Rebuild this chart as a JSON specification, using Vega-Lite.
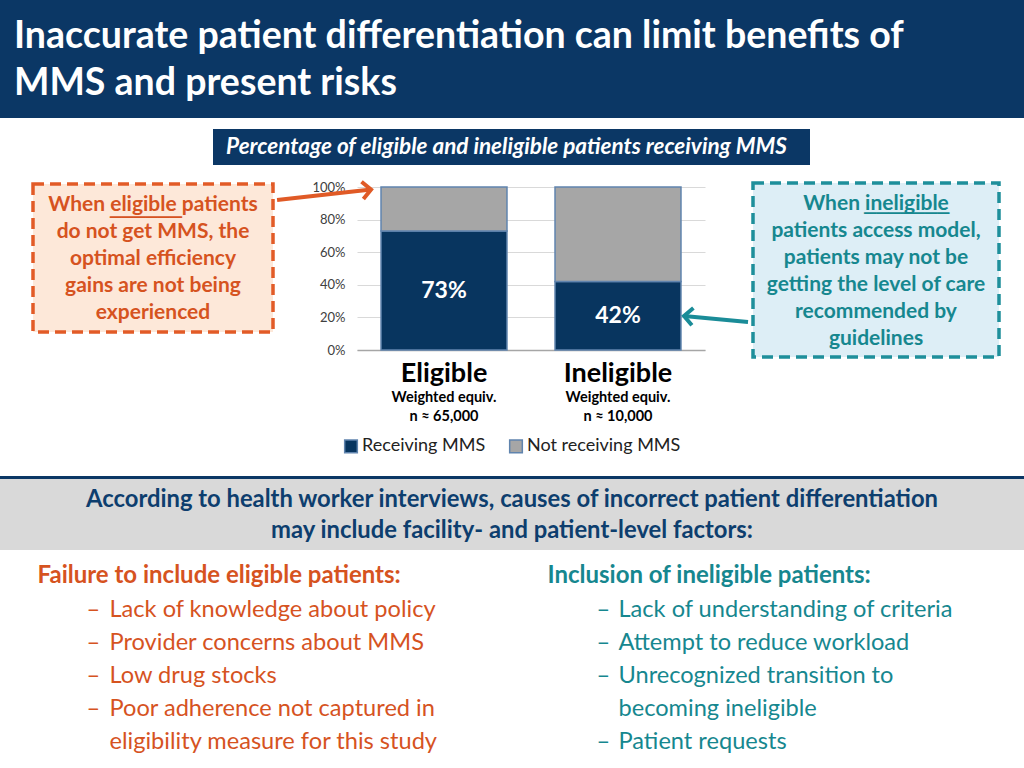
{
  "$schema": "https://vega.github.io/schema/vega-lite/v6.json",
  "padding": 0,
  "background": "white",
  "data": {"values": [{}]},
  "spacing": 0,
  "config": {
    "view": {"stroke": null},
    "concat": {"spacing": 0},
    "font": "Lato"
  },
  "vconcat": [
    {
      "width": 1024, "height": 118,
      "view": {"fill": "#0b3765"},
      "mark": {"type": "text", "text": ["Inaccurate patient differentiation can limit benefits of", "MMS and present risks"], "align": "left", "baseline": "alphabetic", "dx": -498, "dy": -11, "fontSize": 37.5, "fontWeight": "bold", "color": "white", "lineHeight": 47}
    },
    {"width": 1024, "height": 11, "data": {"values": []}, "mark": "point"},
    {
      "hconcat": [
        {"width": 213, "height": 36, "data": {"values": []}, "mark": "point"},
        {
          "width": 597, "height": 36,
          "view": {"fill": "#0b3765"},
          "mark": {"type": "text", "text": "Percentage of eligible and ineligible patients receiving MMS", "dx": -5, "fontSize": 22.5, "fontWeight": "bold", "fontStyle": "italic", "color": "white"}
        },
        {"width": 214, "height": 36, "data": {"values": []}, "mark": "point"}
      ],
      "spacing": 0, "bounds": "flush"
    },
    {
      "hconcat": [
        {"width": 31, "height": 311, "data": {"values": []}, "mark": "point"},
        {
          "vconcat": [
            {"width": 240, "height": 19, "data": {"values": []}, "mark": "point"},
            {
              "width": 240, "height": 148,
              "view": {"fill": "#fde8d9", "stroke": "#e25b27", "strokeWidth": 3.5, "strokeDash": [11, 6]},
              "layer": [
                {"mark": {"type": "text", "text": ["When eligible patients", "do not get MMS, the", "optimal efficiency", "gains are not being", "experienced"], "baseline": "alphabetic", "fontSize": 21, "fontWeight": "bold", "color": "#d6531f", "lineHeight": 27, "dy": -47}},
                {"mark": {"type": "text", "text": "──────", "font": "DejaVu Sans", "align": "left", "baseline": "middle", "fontSize": 19.9, "color": "#d6531f", "dx": -43, "dy": -40}}
              ]
            }
          ],
          "spacing": 0, "bounds": "flush"
        },
        {
          "vconcat": [
            {"width": 348, "height": 22, "data": {"values": []}, "mark": "point"},
            {
              "width": 348, "height": 163,
              "data": {"values": [
                {"group": "Eligible", "status": "Receiving MMS", "share": 0.73},
                {"group": "Eligible", "status": "Not receiving MMS", "share": 0.27},
                {"group": "Ineligible", "status": "Receiving MMS", "share": 0.42},
                {"group": "Ineligible", "status": "Not receiving MMS", "share": 0.58}
              ]},
              "layer": [
                {
                  "mark": {"type": "bar", "stroke": "#6084ae", "strokeWidth": 1.5},
                  "encoding": {
                    "x": {"field": "group", "type": "nominal", "sort": ["Eligible", "Ineligible"],
                      "scale": {"paddingInner": 0.276, "paddingOuter": 0.138},
                      "axis": {"orient": "bottom", "title": null, "labelAngle": 0, "labelFontSize": 27, "labelFontWeight": "bold", "labelColor": "#000000", "labelPadding": 10, "ticks": false, "domainColor": "#a6a6a6", "domainWidth": 1.5, "grid": false}},
                    "y": {"field": "share", "type": "quantitative", "stack": "zero",
                      "scale": {"domain": [0, 1]},
                      "axis": {"title": null, "values": [0, 0.2, 0.4, 0.6, 0.8, 1], "format": ".0%", "domain": false, "ticks": false, "labelFontSize": 13, "labelColor": "#404040", "labelPadding": 12, "gridColor": "#d9d9d9", "gridWidth": 1}},
                    "color": {"field": "status", "type": "nominal",
                      "scale": {"domain": ["Receiving MMS", "Not receiving MMS"], "range": ["#08355f", "#a6a6a6"]},
                      "legend": {"orient": "none", "legendX": 342, "legendY": 437, "direction": "horizontal", "title": null, "symbolType": "square", "symbolSize": 160, "labelFontSize": 18, "labelColor": "#222222", "columnPadding": 20, "labelOffset": 2, "symbolStrokeColor": "#6084ae", "symbolStrokeWidth": 1.5}},
                    "order": {"field": "status", "sort": "descending"}
                  }
                },
                {
                  "transform": [{"filter": "datum.status === 'Receiving MMS'"}],
                  "mark": {"type": "text", "color": "white", "fontSize": 23, "fontWeight": "bold", "baseline": "middle"},
                  "encoding": {
                    "x": {"field": "group", "type": "nominal", "sort": ["Eligible", "Ineligible"],
                      "axis": {"orient": "bottom", "title": null, "labelAngle": 0, "labelExpr": "datum.value == 'Eligible' ? ['Weighted equiv.', 'n ≈ 65,000'] : ['Weighted equiv.', 'n ≈ 10,000']", "labelFontSize": 14.5, "labelFontWeight": "bold", "labelColor": "#000000", "labelPadding": 40, "labelLineHeight": 19, "ticks": false, "domain": false, "grid": false}},
                    "y": {"field": "share", "type": "quantitative", "scale": {"domain": [0, 2]}, "axis": null},
                    "text": {"field": "share", "type": "quantitative", "format": ".0%"}
                  }
                },
                {
                  "data": {"values": [{"group": "Eligible"}]},
                  "mark": {"type": "rule", "color": "#e05a26", "strokeWidth": 4},
                  "encoding": {
                    "x": {"field": "group", "type": "nominal", "sort": ["Eligible", "Ineligible"], "bandPosition": -0.825, "axis": null},
                    "x2": {"field": "group", "bandPosition": -0.079},
                    "y": {"datum": 0.92, "type": "quantitative", "scale": {"domain": [0, 1]}, "axis": null},
                    "y2": {"datum": 0.985}
                  }
                },
                {
                  "data": {"values": [{"group": "Eligible"}]},
                  "mark": {"type": "point", "shape": "M-1,-1L0,0L-1,1", "filled": false, "color": "#e05a26", "strokeWidth": 4, "size": 300, "angle": -6.3, "opacity": 1},
                  "encoding": {
                    "x": {"field": "group", "type": "nominal", "sort": ["Eligible", "Ineligible"], "bandPosition": -0.079, "axis": null},
                    "y": {"datum": 0.985, "type": "quantitative", "scale": {"domain": [0, 1]}, "axis": null}
                  }
                },
                {
                  "data": {"values": [{"group": "Ineligible"}]},
                  "mark": {"type": "rule", "color": "#1a8c98", "strokeWidth": 4},
                  "encoding": {
                    "x": {"field": "group", "type": "nominal", "sort": ["Eligible", "Ineligible"], "bandPosition": 1.532, "axis": null},
                    "x2": {"field": "group", "bandPosition": 1.024},
                    "y": {"datum": 0.172, "type": "quantitative", "scale": {"domain": [0, 1]}, "axis": null},
                    "y2": {"datum": 0.209}
                  }
                },
                {
                  "data": {"values": [{"group": "Ineligible"}]},
                  "mark": {"type": "point", "shape": "M-1,-1L0,0L-1,1", "filled": false, "color": "#1a8c98", "strokeWidth": 4, "size": 300, "angle": 185, "opacity": 1},
                  "encoding": {
                    "x": {"field": "group", "type": "nominal", "sort": ["Eligible", "Ineligible"], "bandPosition": 1.024, "axis": null},
                    "y": {"datum": 0.209, "type": "quantitative", "scale": {"domain": [0, 1]}, "axis": null}
                  }
                }
              ],
              "resolve": {"scale": {"y": "independent"}, "axis": {"x": "independent"}}
            }
          ],
          "spacing": 0, "bounds": "flush"
        },
        {
          "vconcat": [
            {"width": 246, "height": 18, "data": {"values": []}, "mark": "point"},
            {
              "width": 246, "height": 174,
              "view": {"fill": "#ddeef6", "stroke": "#1e8f9b", "strokeWidth": 3.5, "strokeDash": [11, 6]},
              "layer": [
                {"mark": {"type": "text", "text": ["When ineligible", "patients access model,", "patients may not be", "getting the level of care", "recommended by", "guidelines"], "baseline": "alphabetic", "fontSize": 21, "fontWeight": "bold", "color": "#16878f", "lineHeight": 27, "dy": -60}},
                {"mark": {"type": "text", "text": "───────", "font": "DejaVu Sans", "align": "left", "baseline": "middle", "fontSize": 20.2, "color": "#16878f", "dx": -12, "dy": -56}}
              ]
            }
          ],
          "spacing": 0, "bounds": "flush"
        },
        {"width": 24, "height": 1, "data": {"values": []}, "mark": "point"}
      ],
      "spacing": 0
    },
    {"width": 1024, "height": 3, "view": {"fill": "#0b3765"}, "data": {"values": []}, "mark": "point"},
    {
      "width": 1024, "height": 71,
      "view": {"fill": "#d9d9d9"},
      "mark": {"type": "text", "text": ["According to health worker interviews, causes of incorrect patient differentiation", "may include facility- and patient-level factors:"], "baseline": "alphabetic", "fontSize": 23.8, "fontWeight": "bold", "color": "#0d3e6e", "lineHeight": 31, "dy": -7.5}
    },
    {
      "hconcat": [
        {"width": 37, "height": 218, "data": {"values": []}, "mark": "point"},
        {"width": 1, "height": 66, "mark": {"type": "text", "text": "Failure to include eligible patients:", "align": "left", "baseline": "alphabetic", "fontSize": 24, "fontWeight": "bold", "color": "#d6531f"}},
        {"width": 50, "height": 1, "data": {"values": []}, "mark": "point"},
        {"width": 1, "height": 134, "mark": {"type": "text", "text": ["–", "–", "–", "–"], "align": "left", "baseline": "alphabetic", "fontSize": 23.6, "color": "#d6531f", "lineHeight": 33, "dx": -2}},
        {"width": 20, "height": 1, "data": {"values": []}, "mark": "point"},
        {"width": 1, "height": 134, "mark": {"type": "text", "text": ["Lack of knowledge about policy", "Provider concerns about MMS", "Low drug stocks", "Poor adherence not captured in", "eligibility measure for this study"], "align": "left", "baseline": "alphabetic", "fontSize": 23.6, "color": "#d6531f", "lineHeight": 33}},
        {"width": 437, "height": 1, "data": {"values": []}, "mark": "point"},
        {"width": 1, "height": 66, "mark": {"type": "text", "text": "Inclusion of ineligible patients:", "align": "left", "baseline": "alphabetic", "fontSize": 24, "fontWeight": "bold", "color": "#16878f"}},
        {"width": 50, "height": 1, "data": {"values": []}, "mark": "point"},
        {"width": 1, "height": 134, "mark": {"type": "text", "text": ["–", "–", "–", "\u200b", "–"], "align": "left", "baseline": "alphabetic", "fontSize": 23.6, "color": "#16878f", "lineHeight": 33, "dx": -2}},
        {"width": 19, "height": 1, "data": {"values": []}, "mark": "point"},
        {"width": 1, "height": 134, "mark": {"type": "text", "text": ["Lack of understanding of criteria", "Attempt to reduce workload", "Unrecognized transition to", "becoming ineligible", "Patient requests"], "align": "left", "baseline": "alphabetic", "fontSize": 23.6, "color": "#16878f", "lineHeight": 33}},
        {"width": 405, "height": 1, "data": {"values": []}, "mark": "point"}
      ],
      "spacing": 0, "bounds": "flush"
    }
  ]
}
